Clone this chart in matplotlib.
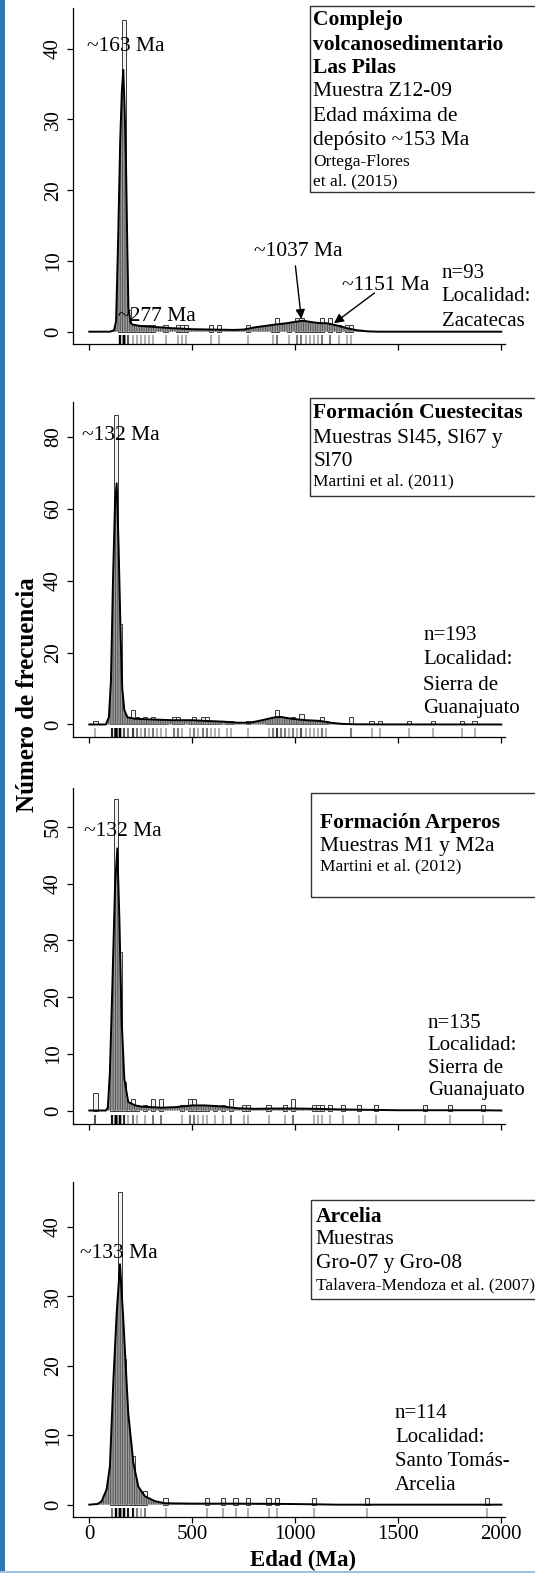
import numpy as np
import matplotlib
matplotlib.use('Agg')
import matplotlib.pyplot as plt
from matplotlib.patches import Rectangle

plt.rcParams['font.family'] = ['Liberation Serif', 'DejaVu Serif']
plt.rcParams['hatch.linewidth'] = 0.6

W, H = 535, 1573

# ---------------- datos ----------------
# histogramas: borde izquierdo del intervalo (Ma, ancho 20) y numero de granos
bins1 = [140, 160, 180, 200, 220, 240, 260, 280, 300, 360, 420, 440, 460, 580, 620, 760, 880, 900,
         960, 1000, 1020, 1040, 1060, 1080, 1100, 1120, 1160, 1200, 1240, 1260]
cnt1 = [15, 44, 3, 1, 1, 1, 1, 1, 1, 1, 1, 1, 1, 1, 1, 1, 1, 2,
        1, 2, 2, 1, 1, 1, 1, 2, 2, 1, 1, 1]
# curva de densidad (KDE), en unidades de frecuencia
kde_age1 = [0, 100, 120, 130, 140, 150, 158, 165, 172, 178, 185, 190, 200, 210, 250, 300, 400, 500, 600, 700,
            750, 800, 850, 900, 960, 1000, 1037, 1080, 1120, 1150, 1200, 1250, 1300, 1350, 1400, 2000]
kde_val1 = [0, 0, 0.2, 1.5, 13, 27, 34, 37, 31, 24, 11, 3.4, 1.3, 1.0, 0.8, 0.7, 0.5, 0.35, 0.3, 0.25,
            0.3, 0.6, 0.8, 1.0, 1.2, 1.4, 1.55, 1.35, 1.2, 1.2, 0.9, 0.5, 0.2, 0.05, 0, 0]

bins2 = [20, 100, 120, 140, 160, 180, 200, 220, 240, 260, 280, 300, 320, 340, 360, 400, 420, 440, 480,
         500, 520, 540, 560, 580, 600, 620, 660, 680, 760, 860, 880, 900, 920, 940, 960, 980, 1000,
         1020, 1040, 1060, 1080, 1100, 1120, 1140, 1260, 1360, 1400, 1540, 1660, 1800, 1860]
cnt2 = [1, 6, 86, 28, 3, 2, 4, 2, 1, 2, 1, 2, 1, 1, 1, 2, 2, 1, 1,
        2, 1, 2, 2, 1, 1, 1, 1, 1, 1, 1, 2, 4, 2, 2, 1, 2, 1,
        3, 1, 1, 1, 1, 2, 1, 2, 1, 1, 1, 1, 1, 1]
kde_age2 = [0, 80, 95, 105, 115, 125, 133, 142, 152, 160, 170, 185, 220, 300, 400, 500, 560, 650, 720,
            780, 840, 900, 930, 980, 1050, 1120, 1170, 1230, 1300, 1400, 2000]
kde_val2 = [0, 0, 2, 12, 40, 62, 67, 50, 25, 10, 4, 2, 1.6, 1.4, 1.2, 1.2, 1.0, 0.8, 0.5,
            0.5, 1.2, 2.0, 2.1, 1.6, 1.2, 1.0, 0.5, 0.15, 0.05, 0.02, 0]

bins3 = [20, 100, 120, 140, 160, 180, 200, 220, 260, 300, 340, 440, 480, 500, 520, 540, 560, 600, 640,
         680, 740, 760, 860, 940, 980, 1080, 1100, 1120, 1160, 1220, 1300, 1380, 1620, 1740, 1900]
cnt3 = [3, 7, 55, 28, 5, 1, 2, 1, 1, 2, 2, 1, 2, 2, 1, 1, 1, 1, 1,
        2, 1, 1, 1, 1, 2, 1, 1, 1, 1, 1, 1, 1, 1, 1, 1]
kde_age3 = [0, 80, 90, 100, 112, 125, 136, 146, 157, 170, 189, 222, 250, 350, 420, 500, 560, 650, 720,
            800, 900, 1000, 1100, 1200, 1300, 1400, 1500, 1900, 2000]
kde_val3 = [0, 0, 0.5, 6.8, 22, 39.7, 46.2, 33.8, 16, 5.6, 1.5, 0.9, 0.7, 0.5, 0.6, 0.9, 0.9, 0.7, 0.4,
            0.3, 0.35, 0.35, 0.3, 0.2, 0.15, 0.1, 0.05, 0.05, 0]

bins4 = [100, 120, 140, 160, 180, 200, 220, 240, 260, 360, 560, 640, 700, 760, 860, 900, 1080, 1340, 1920]
cnt4 = [2, 18, 45, 21, 6, 7, 2, 1, 2, 1, 1, 1, 1, 1, 1, 1, 1, 1, 1]
kde_age4 = [0, 40, 60, 84, 100, 117, 133, 149, 165, 189, 214, 238, 270, 319, 367, 500, 700, 900, 1100, 1200, 2000]
kde_val4 = [0, 0.1, 0.5, 2.2, 5.5, 18, 27.6, 34.6, 26.7, 13.2, 6, 2.6, 1.2, 0.5, 0.2, 0.15, 0.15, 0.12, 0.05, 0, 0]

yticks1 = [0, 10, 20, 30, 40]
yticks2 = [0, 20, 40, 60, 80]
yticks3 = [0, 10, 20, 30, 40, 50]
yticks4 = [0, 10, 20, 30, 40]
xticks = [0, 500, 1000, 1500, 2000]

# ---------------- figura ----------------
fig = plt.figure(figsize=(W / 100, H / 100), dpi=100)


def fx(px):
    return px / W


def fy(py):
    return 1 - py / H


def ftext(px, py, s, size=15.5, weight='normal', ha='left', **kw):
    fig.text(fx(px), fy(py), s, ha=ha, va='center', fontsize=size, fontweight=weight, **kw)


left_px, right_px = 72.7, 505
panels = [
    # top px, bottom px, ylim, datos
    (8.3, 344, (-1.74, 45.7), bins1, cnt1, kde_age1, kde_val1, yticks1),
    (401.7, 737.3, (-3.56, 89.7), bins2, cnt2, kde_age2, kde_val2, yticks2),
    (788.3, 1124.3, (-2.43, 56.8), bins3, cnt3, kde_age3, kde_val3, yticks3),
    (1181.7, 1517.3, (-1.82, 46.5), bins4, cnt4, kde_age4, kde_val4, yticks4),
]

axes = []
for i, (top, bot, ylim, bins, cnt, ka, kv, yt) in enumerate(panels):
    ax = fig.add_axes([fx(left_px), fy(bot), fx(right_px - left_px), (bot - top) / H])
    axes.append(ax)
    ax.bar(bins, cnt, width=20, align='edge', facecolor='#f3f3f3', edgecolor='#3a3a3a',
           linewidth=0.7, zorder=2)
    ax.fill_between(ka, 0, kv, facecolor='#9a9a9a', edgecolor='#4a4a4a', hatch='|' * 7,
                    linewidth=0, zorder=3)
    ax.plot(ka, kv, color='black', lw=1.4, zorder=4)
    rug = np.repeat(np.array(bins) + 10, cnt)
    ax.vlines(rug, 0, 0.027, transform=ax.get_xaxis_transform(), colors='black',
              alpha=0.3, lw=1.5, zorder=2)
    ax.set_xlim(-80.6, 2018)
    ax.set_ylim(*ylim)
    ax.set_xticks(xticks)
    ax.set_yticks(yt)
    for s in ['top', 'right']:
        ax.spines[s].set_visible(False)
    for s in ['left', 'bottom']:
        ax.spines[s].set_linewidth(0.9)
    ax.tick_params(axis='both', length=4, width=0.9, labelsize=15, direction='out')
    ax.tick_params(axis='y', pad=3)
    ax.tick_params(axis='x', pad=1.5)
    plt.setp(ax.get_yticklabels(), rotation=90, va='center')
    if i < 3:
        ax.set_xticklabels([])

# ---- flechas panel 1 ----
axes[0].annotate('', xy=(1031, 1.4), xytext=(999, 9.7),
                 arrowprops=dict(arrowstyle='-|>', color='black', lw=1.0, mutation_scale=14), zorder=6)
axes[0].annotate('', xy=(1177, 0.95), xytext=(1395, 5.7),
                 arrowprops=dict(arrowstyle='-|>', color='black', lw=1.0, mutation_scale=14), zorder=6)

# ---- etiquetas de picos ----
ftext(87, 46.7, '~163 Ma')
ftext(118, 316.7, '~277 Ma')
ftext(254, 251.7, '~1037 Ma')
ftext(341.7, 285, '~1151 Ma')
ftext(82, 435, '~132 Ma')
ftext(83.6, 831.7, '~132 Ma')
ftext(80.2, 1253.3, '~133 Ma')

# ---- n y localidad ----
for py, s in [(273.3, 'n=93'), (296.7, 'Localidad:'), (321.7, 'Zacatecas')]:
    ftext(441.7, py, s, size=15)
for py, s in [(635, 'n=193'), (660, 'Localidad:'), (685, 'Sierra de'), (708.3, 'Guanajuato')]:
    ftext(423.3, py, s, size=15)
for py, s in [(1023.3, 'n=135'), (1046, 'Localidad:'), (1068.3, 'Sierra de'), (1090, 'Guanajuato')]:
    ftext(427.7, py, s, size=15)
for py, s in [(1413.3, 'n=114'), (1437.3, 'Localidad:'), (1461.7, 'Santo Tomás-'), (1485, 'Arcelia')]:
    ftext(395, py, s, size=15)

# ---- recuadros ----
boxes = [
    (309.5, 6, 191.7, 313.2, [('Complejo', 20, 'b'), ('volcanosedimentario', 45, 'b'),
                              ('Las Pilas', 68.3, 'b'), ('Muestra Z12-09', 91.7, 'n'),
                              ('Edad máxima de', 116.7, 'n'), ('depósito ~153 Ma', 140, 'n'),
                              ('Ortega-Flores', 162.3, 's'), ('et al. (2015)', 181.7, 's')]),
    (309.5, 398.3, 496, 313.2, [('Formación Cuestecitas', 412.7, 'b'),
                                ('Muestras Sl45, Sl67 y', 438.3, 'n'), ('Sl70', 461.7, 'n'),
                                ('Martini et al. (2011)', 481.7, 's')]),
    (310.5, 793.3, 897.3, 320, [('Formación Arperos', 823.3, 'b'), ('Muestras M1 y M2a', 846, 'n'),
                                ('Martini et al. (2012)', 866, 's')]),
    (310.5, 1200, 1299.3, 315.6, [('Arcelia', 1216.7, 'b'), ('Muestras', 1240, 'n'),
                                  ('Gro-07 y Gro-08', 1263.3, 'n'),
                                  ('Talavera-Mendoza et al. (2007)', 1285, 's')]),
]
for x0, y0, y1, tx, lines in boxes:
    fig.add_artist(Rectangle((fx(x0), fy(y1)), fx(W + 20 - x0), (y1 - y0) / H,
                             transform=fig.transFigure, fill=False, edgecolor='#333333', lw=1.0))
    for s, py, kind in lines:
        if kind == 'b':
            ftext(tx, py, s, size=15.5, weight='bold')
        elif kind == 's':
            ftext(tx, py, s, size=12.5)
        else:
            ftext(tx, py, s, size=15.5)

# ---- titulos de ejes ----
ftext(303, 1560, 'Edad (Ma)', size=16.5, weight='bold', ha='center')
fig.text(fx(28), fy(695), 'Número de frecuencia', rotation=90, ha='center', va='center',
         fontsize=18, fontweight='bold')

# ---- borde azul ----
fig.add_artist(Rectangle((0, 0), fx(5), 1, transform=fig.transFigure, facecolor='#2e75b6',
                         edgecolor='none'))
fig.add_artist(Rectangle((0, 0), 1, 2 / H, transform=fig.transFigure, facecolor='#9dc3e6',
                         edgecolor='none'))

fig.savefig('out.png', dpi=100)
